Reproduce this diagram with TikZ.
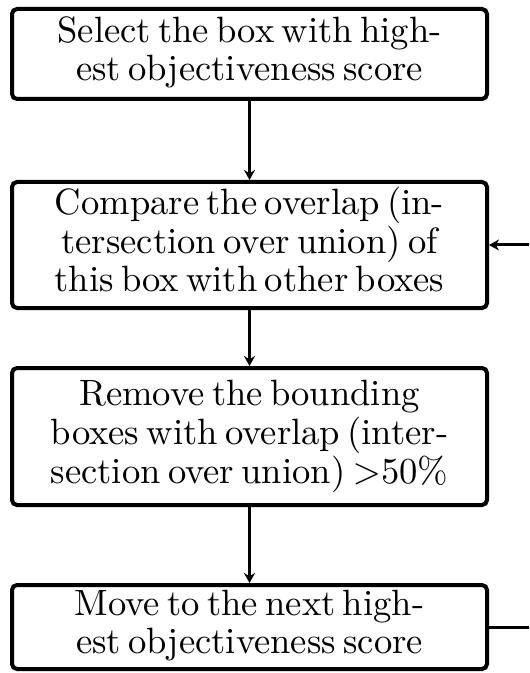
\documentclass[tikz,border=0pt]{standalone}
\usepackage{graphicx}
\usetikzlibrary{arrows.meta}
% box text: 10pt roman enlarged as a whole, with tight word spacing
\newcommand\steptext[1]{\scalebox{1.83}{\fontsize{10}{10.5}\selectfont
  \spaceskip 0.2em\relax\begin{tabular}{@{}c@{}}#1\end{tabular}}}
\begin{document}
\begin{tikzpicture}[x=0.5pt,y=-0.5pt,
  stepbox/.style={draw, line width=2pt, rounded corners=2.5pt, inner sep=0pt,
    minimum width=237.5pt},
  flow/.style={line width=1.5pt, -{Stealth[length=5pt,width=5.5pt]}}]
  \useasboundingbox (0,0) rectangle (529,673);
  \clip (0,0) rectangle (529,673);
  \node[stepbox, minimum height=45pt] (select) at (249.5,54)
    {\steptext{Select the box with high-\\est objectiveness score}};
  \node[stepbox, minimum height=63pt] (compare) at (249.5,245)
    {\steptext{Compare the overlap (in-\\tersection over union) of\\this box with other boxes}};
  \node[stepbox, minimum height=68.5pt] (remove) at (249.5,436.5)
    {\steptext{Remove the bounding\\boxes with overlap (inter-\\section over union) $>$50\%}};
  \node[stepbox, minimum height=42pt] (next) at (249.5,627)
    {\steptext{Move to the next high-\\est objectiveness score}};
  \coordinate (loopbot) at (560,627);
  \coordinate (looptop) at (560,245);
  \draw[flow] (select) -- (compare);
  \draw[flow] (compare) -- (remove);
  \draw[flow] (remove) -- (next);
  \draw[flow] (next.east) -- (loopbot) -- (looptop) -- (compare.east);
\end{tikzpicture}
\end{document}
